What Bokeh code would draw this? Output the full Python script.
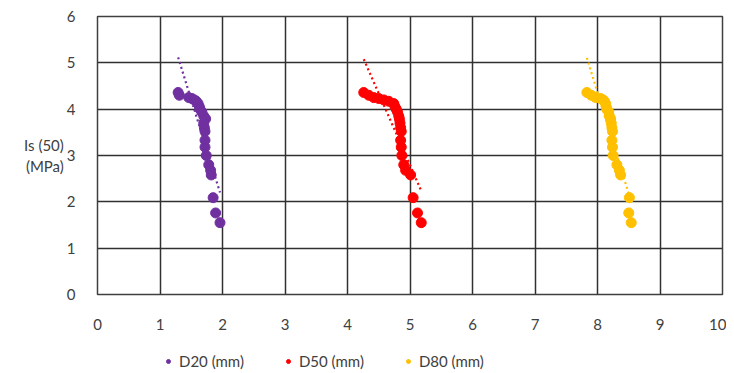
import numpy as np
from bokeh.plotting import figure
from bokeh.layouts import column
from bokeh.models import Legend, LegendItem, FixedTicker, Range1d
from bokeh.embed import file_html
from bokeh.resources import INLINE

# shared Is(50) values (MPa)
is50 = [4.36, 4.30, 4.25, 4.23, 4.20, 4.17, 4.12, 4.05, 4.00, 3.94, 3.85, 3.79,
        3.70, 3.60, 3.52, 3.33, 3.18, 3.00, 2.80, 2.68, 2.58, 2.09, 1.76, 1.55]
d20 = [1.29, 1.31, 1.46, 1.51, 1.55, 1.58, 1.61, 1.63, 1.64, 1.67, 1.70, 1.73,
       1.70, 1.71, 1.72, 1.72, 1.72, 1.74, 1.78, 1.81, 1.82, 1.85, 1.89, 1.96]
d50 = [4.26, 4.34, 4.42, 4.50, 4.58, 4.66, 4.74, 4.76, 4.78, 4.80, 4.82, 4.83,
       4.84, 4.85, 4.86, 4.85, 4.86, 4.87, 4.90, 4.93, 5.01, 5.05, 5.12, 5.18]
d80 = [7.83, 7.90, 7.97, 8.05, 8.09, 8.11, 8.13, 8.14, 8.15, 8.18, 8.19, 8.21,
       8.22, 8.23, 8.24, 8.23, 8.24, 8.25, 8.31, 8.35, 8.37, 8.51, 8.50, 8.54]
series_names = ["D20 (mm)", "D50 (mm)", "D80 (mm)"]
colors = ["#7030A0", "#FF0000", "#FFC000"]
x_ticks = list(range(0, 11))
y_ticks = list(range(0, 7))
y_title = "Is (50)\n(MPa)"

FONT = "Lato"
TXT = "#404040"

p = figure(width=726, height=332, output_backend="svg", toolbar_location=None,
           x_range=Range1d(0, 10), y_range=Range1d(0, 6),
           min_border_left=97, min_border_right=4, min_border_top=16, min_border_bottom=38)
p.outline_line_color = "#404040"
p.outline_line_width = 1.5

for ax in (p.xaxis[0], p.yaxis[0]):
    ax.axis_line_color = None
    ax.major_tick_line_color = None
    ax.minor_tick_line_color = None
    ax.major_label_text_font = FONT
    ax.major_label_text_font_size = "15px"
    ax.major_label_text_color = TXT

p.xaxis[0].ticker = FixedTicker(ticks=x_ticks)
p.yaxis[0].ticker = FixedTicker(ticks=y_ticks)
p.xaxis[0].major_label_standoff = 18
p.yaxis[0].major_label_standoff = 16
p.yaxis[0].axis_label = y_title
p.yaxis[0].axis_label_orientation = "horizontal"
p.yaxis[0].axis_label_text_font = FONT
p.yaxis[0].axis_label_text_font_size = "15px"
p.yaxis[0].axis_label_text_font_style = "normal"
p.yaxis[0].axis_label_text_color = TXT
p.yaxis[0].axis_label_standoff = 0

p.xgrid.ticker = FixedTicker(ticks=x_ticks)
p.ygrid.ticker = FixedTicker(ticks=y_ticks)
for g in (p.xgrid[0], p.ygrid[0]):
    g.grid_line_color = "#303030"
    g.grid_line_width = 1.5

for xs, name, c in zip([d20, d50, d80], series_names, colors):
    p.scatter(xs, is50, size=10, color=c, line_color=c)
    m, b = np.polyfit(xs, is50, 1)
    tx = np.array([min(xs), max(xs)])
    p.line(tx, m * tx + b, line_color=c, line_width=2.2, line_dash="2 3")

# legend strip below the chart (proxy glyphs sit outside the visible range)
lf = figure(width=726, height=41, output_backend="svg", toolbar_location=None,
            x_range=Range1d(0, 1), y_range=Range1d(0, 1),
            min_border_left=0, min_border_right=0, min_border_top=16, min_border_bottom=0)
lf.axis.visible = False
lf.grid.visible = False
lf.outline_line_color = None
items = []
for name, c in zip(series_names, colors):
    r = lf.scatter([-5], [-5], size=10, color=c, line_color=c)
    items.append(LegendItem(label=name, renderers=[r]))
leg = Legend(items=items, orientation="horizontal", location="left",
             label_text_font=FONT, label_text_font_size="15px", label_text_color=TXT,
             glyph_width=10, glyph_height=10, label_standoff=6, spacing=39,
             border_line_color=None, background_fill_alpha=0, padding=0, margin=66)
lf.add_layout(leg, "center")

open("out.html", "w").write(file_html(column(p, lf), INLINE))
